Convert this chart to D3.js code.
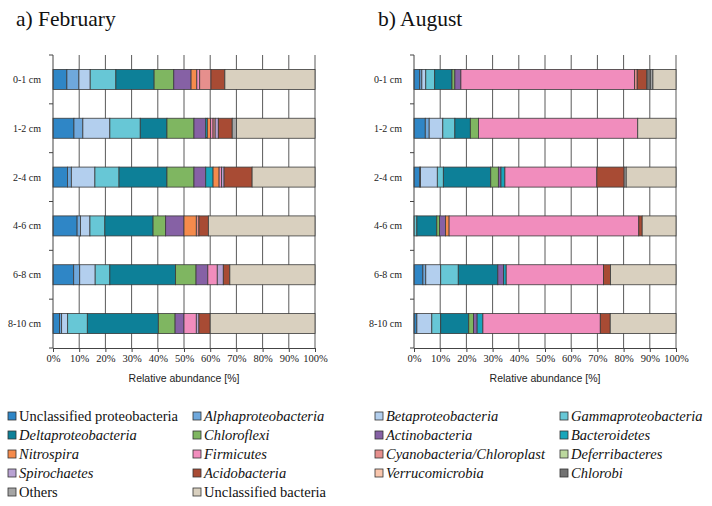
<!DOCTYPE html>
<html><head><meta charset="utf-8">
<script src="https://cdn.jsdelivr.net/npm/d3@7"></script>
<style>body{margin:0;background:#fff} svg{display:block}</style>
</head><body><svg id="c" width="712" height="506"></svg>
<script>
// ---------- data ----------
const depths = ["0-1 cm","1-2 cm","2-4 cm","4-6 cm","6-8 cm","8-10 cm"];
const taxa = ["Unclassified proteobacteria","Alphaproteobacteria","Betaproteobacteria","Gammaproteobacteria",
  "Deltaproteobacteria","Chloroflexi","Actinobacteria","Bacteroidetes",
  "Nitrospira","Firmicutes","Cyanobacteria/Chloroplast","Deferribacteres",
  "Spirochaetes","Acidobacteria","Verrucomicrobia","Chlorobi",
  "Others","Unclassified bacteria"];
const plainTaxa = ["Unclassified proteobacteria","Others","Unclassified bacteria"];
const tickValues = [0,10,20,30,40,50,60,70,80,90,100];

// February (percent per taxon, in the order of `taxa`)
const feb_0_1  = [5.3,4.6,4.3,9.8,14.6,7.5,6.6,0,2.2,1.1,4.3,0,0,5.3,0,0,0,34.4];
const feb_1_2  = [8.0,3.4,10.3,11.6,10.2,10.3,4.5,0.6,1.2,1.0,0.8,0,1.2,5.3,0,0,1.6,30.0];
const feb_2_4  = [5.5,1.5,9.0,9.2,18.3,10.3,4.5,2.8,2.3,0.9,0,0,1.0,10.7,0,0,0,24.0];
const feb_4_6  = [9.2,1.3,3.6,5.7,18.4,4.8,7.0,0,4.7,0,1.0,0,0,3.6,0,0,0,40.7];
const feb_6_8  = [7.9,2.3,5.9,5.6,25.1,7.8,4.5,0,0,3.6,0,0,2.3,2.5,0,0,0,32.5];
const feb_8_10 = [2.5,0.8,2.3,7.5,27.1,6.4,3.4,0,0,4.7,0,0,1.0,4.3,0,0,0,40.0];

// August
const aug_0_1  = [2.2,0.8,1.5,3.4,6.6,1.1,2.3,0,0,66.3,1.0,0,0,3.7,0,1.3,1.0,8.8];
const aug_1_2  = [4.3,1.5,5.2,4.6,5.9,3.1,0,0,0,60.8,0,0,0,0,0,0,0,14.6];
const aug_2_4  = [2.2,0.3,6.4,2.3,18.1,2.9,1.0,1.5,0,35.1,0,0,0,10.4,0,0,0.8,19.0];
const aug_4_6  = [0,0,0,1.1,7.6,1.0,2.3,0,1.4,72.4,0,0,0,1.3,0,0,0,12.9];
const aug_6_8  = [3.4,1.1,5.7,6.7,15.1,0,2.2,1.0,0,37.1,0,0,0,2.7,0,0,0,25.0];
const aug_8_10 = [1.1,0,5.7,3.4,10.7,1.8,1.4,2.2,0,44.8,0,0,0,3.8,0,0,0,25.1];

const febRows = [feb_0_1,feb_1_2,feb_2_4,feb_4_6,feb_6_8,feb_8_10];
const augRows = [aug_0_1,aug_1_2,aug_2_4,aug_4_6,aug_6_8,aug_8_10];

// ---------- styles ----------
const colors = ["#2f86c6","#6fa8dc","#b3cfee","#67c7d6",
  "#0d8098","#7fb661","#8661a5","#17a5bb",
  "#f58b4c","#f18dbd","#e68f8d","#bcd89e",
  "#b9a2d3","#a84b34","#f9c6ad","#737373",
  "#a5a5a5","#d9d0bf"];
const serif = "'Liberation Serif','Times New Roman',serif";
const sans = "'Liberation Sans',Arial,sans-serif";

const svg = d3.select("#c");
const plotTop = 55, plotBottom = 348;
const color = d3.scaleOrdinal().domain(taxa).range(colors);

function panel(rows, x0, x1, title, titleX) {
  const g = svg.append("g");
  const x = d3.scaleLinear().domain([0,100]).range([x0,x1]);
  const y = d3.scaleBand().domain(depths).range([plotTop,plotBottom]).paddingInner(0.59).paddingOuter(0.295);

  svg.append("text").attr("x",titleX).attr("y",26).attr("font-family",serif)
    .attr("font-size",21.5).attr("fill","#111").text(title);

  g.selectAll("line.grid").data(tickValues.slice(1)).join("line")
    .attr("x1",d=>x(d)).attr("x2",d=>x(d)).attr("y1",plotTop).attr("y2",plotBottom)
    .attr("stroke","#5a5a5a").attr("stroke-width",1);

  rows.forEach((vals,i)=>{
    let cum = 0;
    const segs = vals.map((v,j)=>{const s={v,j,start:cum}; cum+=v; return s;}).filter(s=>s.v>0);
    g.append("g").selectAll("rect").data(segs).join("rect")
      .attr("x",s=>x(s.start)).attr("width",s=>x(s.start+s.v)-x(s.start))
      .attr("y",y(depths[i])).attr("height",y.bandwidth())
      .attr("fill",s=>color(taxa[s.j])).attr("stroke","#3a3a3a").attr("stroke-width",0.8);
  });

  g.append("line").attr("x1",x0).attr("x2",x0).attr("y1",plotTop).attr("y2",plotBottom)
    .attr("stroke","#444").attr("stroke-width",1);
  const bounds = d3.range(depths.length+1).map(k=>plotTop+k*y.step());
  g.append("g").selectAll("line").data(bounds).join("line")
    .attr("x1",x0-4).attr("x2",x0).attr("y1",d=>d).attr("y2",d=>d)
    .attr("stroke","#444");
  g.append("g").selectAll("text").data(depths).join("text")
    .attr("x",x0-12).attr("y",d=>y(d)+y.bandwidth()/2).attr("dy","0.35em")
    .attr("text-anchor","end").attr("font-family",serif).attr("font-size",10).attr("fill","#222")
    .text(d=>d);

  const ax = g.append("g").attr("transform",`translate(0,${plotBottom})`)
    .call(d3.axisBottom(x).tickValues(tickValues).tickFormat(d=>d+"%").tickSize(4).tickSizeOuter(0).tickPadding(3));
  ax.select(".domain").attr("stroke","#444");
  ax.selectAll(".tick line").attr("stroke","#444");
  ax.selectAll("text").attr("font-family",serif).attr("font-size",10.5).attr("fill","#222");

  g.append("text").attr("x",(x0+x1)/2).attr("y",382).attr("text-anchor","middle")
    .attr("font-family",sans).attr("font-size",10.5).attr("fill","#222").text("Relative abundance [%]");
}

panel(febRows, 53, 315, "a) February", 16);
panel(augRows, 414, 676, "b) August", 378);

const colX = [8,193,375,560];
const rowY = [416,435,454,473,492];
const lg = svg.append("g");
taxa.forEach((t,i)=>{
  const cx = colX[i%4], cy = rowY[Math.floor(i/4)];
  lg.append("rect").attr("x",cx).attr("y",cy-4).attr("width",8).attr("height",8)
    .attr("fill",color(t)).attr("stroke","#333").attr("stroke-width",0.8);
  lg.append("text").attr("x",cx+11).attr("y",cy).attr("dy","0.35em")
    .attr("font-family",serif).attr("font-size",14.5).attr("fill","#111")
    .attr("font-style",plainTaxa.includes(t)?"normal":"italic").text(t);
});
</script></body></html>
